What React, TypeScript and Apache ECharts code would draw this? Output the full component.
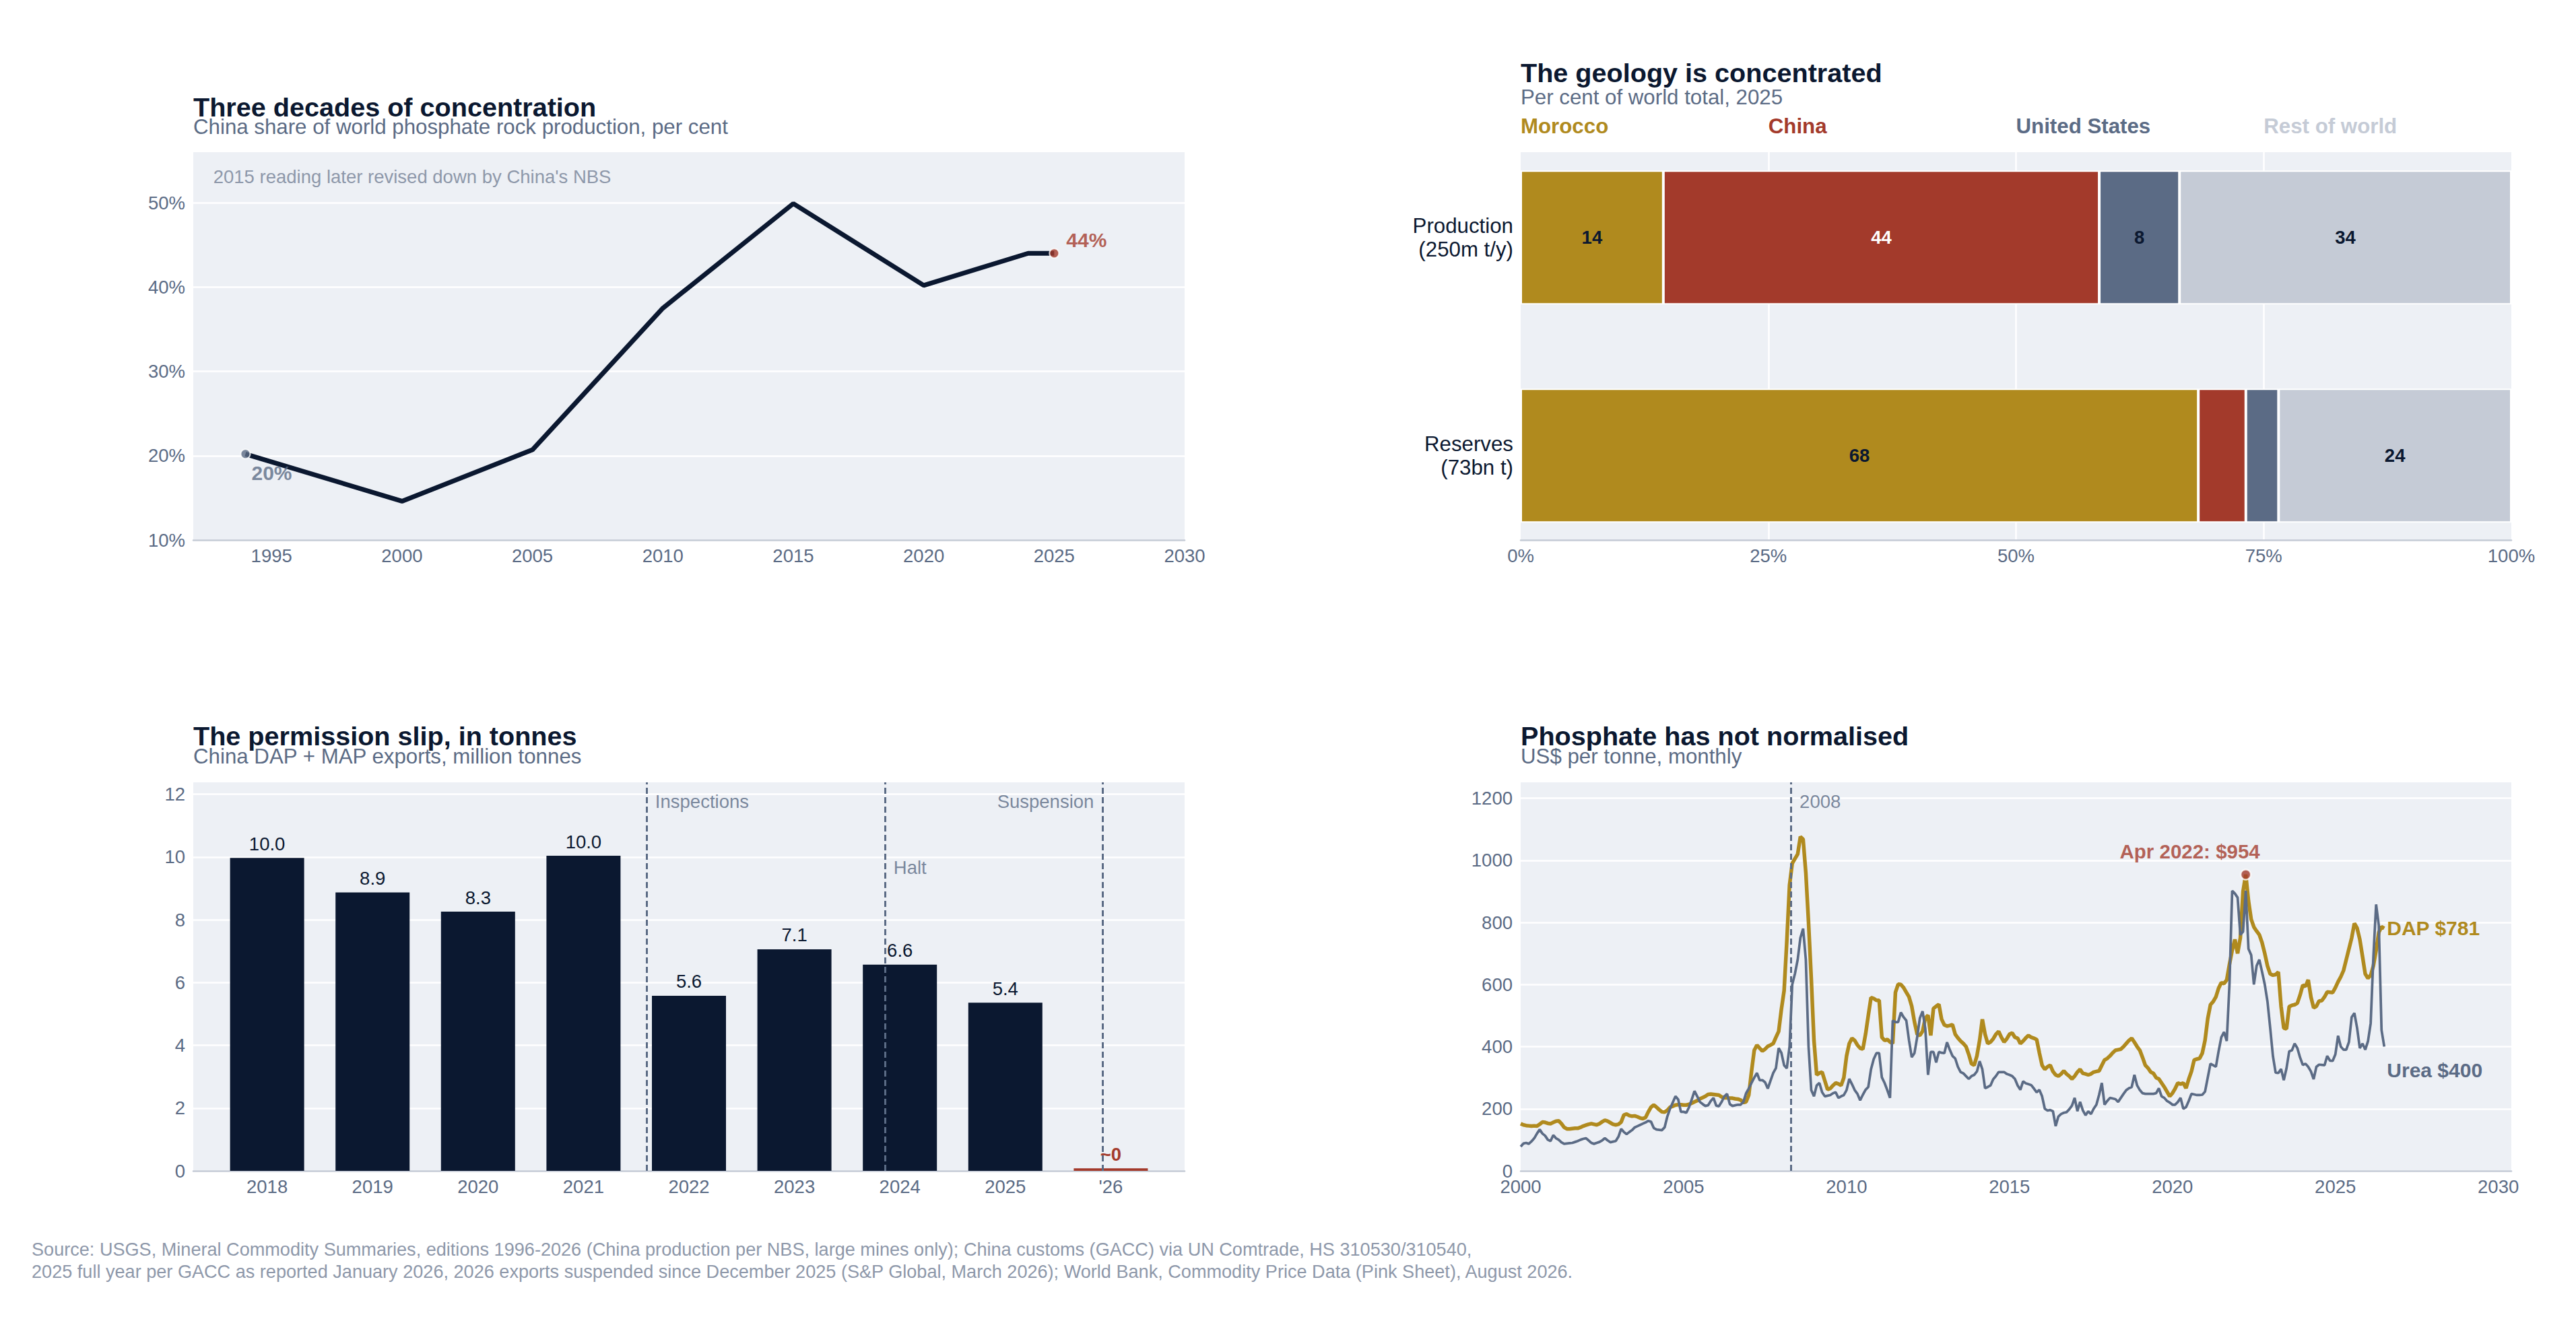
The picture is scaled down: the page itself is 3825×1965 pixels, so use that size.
import React, { useEffect, useRef } from "react";
import * as echarts from "echarts";

// ---------- data ----------
// Panel 1: China share of world phosphate rock production (%)
const shareYears = [1994, 2000, 2005, 2010, 2015, 2020, 2024, 2025];
const shareValues = [20.2, 14.6, 20.7, 37.5, 49.9, 40.2, 44.0, 44.0];
const shareNote = "2015 reading later revised down by China's NBS";

// Panel 2: geology shares (% of world total, 2025)
const geoRows = ["Reserves\n(73bn t)", "Production\n(250m t/y)"];
const geoGroups = ["Morocco", "China", "United States", "Rest of world"];
const geoReserves = [68.4, 4.8, 3.3, 23.5];
const geoProduction = [14.4, 44.0, 8.1, 33.5];
const geoTicks = [0, 25, 50, 75, 100];

// Panel 3: China DAP + MAP exports, million tonnes
const exportYears = [2018, 2019, 2020, 2021, 2022, 2023, 2024, 2025, 2026];
const exportTickLabels = ["2018", "2019", "2020", "2021", "2022", "2023", "2024", "2025", "'26"];
const exportValues = [9.97, 8.87, 8.26, 10.04, 5.58, 7.06, 6.57, 5.36, 0.08];
const eventNames = ["Inspections", "Halt", "Suspension"];
const eventDates = [2021.6, 2023.86, 2025.92];
const eventLabelLevels = [11.77, 9.67, 11.77];

// Panel 4: monthly prices, US$/t, from Jan 2000
const priceStartYear = 2000;
const dapMonthly = [
  152, 148, 146, 145, 144, 145, 144, 150, 157, 156, 153, 152,
  156, 160, 161, 152, 140, 135, 135, 136, 137, 137, 140, 144,
  147, 150, 152, 150, 148, 152, 158, 163, 160, 155, 150, 148,
  150, 157, 180, 183, 178, 176, 177, 174, 170, 168, 172, 190,
  205, 212, 205, 197, 190, 189, 195, 205, 208, 212, 213, 213,
  212, 212, 214, 218, 222, 226, 232, 236, 240, 246, 247, 246,
  245, 244, 238, 235, 235, 234, 234, 232, 231, 228, 220, 222,
  244, 320, 388, 405, 395, 386, 392, 401, 405, 410, 430, 449,
  520, 580, 740, 920, 990, 1005, 1020, 1076, 1068, 960, 800, 620,
  420, 309, 315, 318, 290, 262, 265, 275, 283, 280, 275, 300,
  370, 410, 427, 420, 405, 395, 392, 440, 500, 558, 555, 549,
  549, 430, 420, 423, 415, 410, 575, 601, 600, 590, 575, 560,
  530, 480, 440, 436, 450, 492, 501, 436, 523, 530, 536, 488,
  470, 466, 468, 471, 440, 428, 418, 410, 400, 375, 345, 340,
  370, 420, 488, 440, 410, 415, 425, 440, 449, 430, 415, 425,
  440, 444, 430, 427, 410, 418, 428, 436, 430, 427, 423, 380,
  340, 327, 335, 340, 320, 309, 305, 312, 322, 312, 305, 296,
  305, 318, 327, 314, 312, 309, 312, 318, 320, 322, 340, 357,
  362, 370, 380, 388, 390, 392, 400, 410, 420, 427, 414, 400,
  388, 365, 340, 331, 318, 314, 300, 296, 283, 270, 255, 240,
  250, 265, 283, 279, 283, 266, 295, 320, 357, 360, 362, 379,
  420, 490, 535, 545, 560, 588, 606, 603, 615, 665, 710, 745,
  700, 750, 900, 954, 870, 810, 785, 772, 760, 735, 700, 660,
  634, 630, 632, 640, 530, 460, 457, 529, 533, 535, 540, 566,
  598, 594, 615, 560, 525, 530, 547, 548, 560, 576, 575, 574,
  590, 609, 625, 645, 680, 715, 750, 797, 782, 745, 690, 634,
  620, 630, 660, 710, 768, 786, 781,
];
const ureaMonthly = [
  78, 88, 90, 87, 95, 105, 120, 133, 120, 113, 100, 96,
  115, 105, 100, 92, 87, 88, 89, 90, 93, 96, 100, 103,
  105, 98, 90, 87, 90, 93, 98, 105, 98, 92, 94, 96,
  110, 135, 125, 118, 125, 131, 140, 144, 148, 152, 156, 161,
  158, 138, 133, 132, 131, 140, 175, 200, 220, 240, 230, 190,
  190, 187, 205, 230, 257, 240, 222, 215, 209, 211, 225, 235,
  210, 208, 222, 240, 248, 215, 209, 211, 213, 213, 222, 250,
  265, 283, 300, 315, 292, 292, 285, 265, 290, 315, 331, 395,
  380, 340, 330, 400, 600, 635, 680, 750, 780, 680, 400, 260,
  240, 275, 283, 253, 240, 242, 244, 250, 253, 235, 240, 244,
  260, 296, 279, 260, 248, 227, 245, 261, 270, 327, 360, 379,
  379, 301, 283, 260, 235, 484, 479, 479, 510, 495, 484, 420,
  366, 379, 430, 492, 514, 458, 309, 383, 383, 349, 383, 380,
  379, 414, 390, 370, 362, 335, 318, 314, 305, 296, 305, 309,
  320, 353, 327, 266, 270, 275, 295, 305, 318, 318, 318, 312,
  309, 305, 296, 275, 261, 288, 282, 279, 276, 265, 253, 261,
  240, 200, 194, 196, 192, 144, 175, 183, 187, 189, 198, 210,
  235, 192, 222, 195, 179, 192, 183, 200, 213, 245, 283, 213,
  225, 235, 233, 231, 222, 235, 248, 260, 266, 270, 309, 275,
  260, 250, 248, 248, 248, 248, 250, 266, 240, 235, 225, 220,
  213, 213, 222, 235, 200, 205, 225, 248, 246, 244, 244, 245,
  255, 300, 345, 340, 335, 385, 430, 447, 418, 600, 902, 893,
  880, 760, 770, 902, 715, 695, 600, 660, 680, 641, 600, 545,
  460, 370, 316, 315, 328, 292, 330, 385, 388, 410, 395, 365,
  341, 345, 335, 320, 295, 335, 342, 341, 340, 370, 355, 354,
  375, 435, 400, 390, 390, 415, 495, 508, 460, 395, 410, 390,
  417, 475, 690, 858, 790, 453, 400,
];
const peakDate = 2022.25;
const peakValue = 954;
const peakText = "Apr 2022: $954";
const crisisDate = 2008.3;
const crisisLabelLevel = 1189;

const titles = [
  "Three decades of concentration",
  "The geology is concentrated",
  "The permission slip, in tonnes",
  "Phosphate has not normalised",
];
const subtitles = [
  "China share of world phosphate rock production, per cent",
  "Per cent of world total, 2025",
  "China DAP + MAP exports, million tonnes",
  "US$ per tonne, monthly",
];
const footerLines = [
  "Source: USGS, Mineral Commodity Summaries, editions 1996-2026 (China production per NBS, large mines only); China customs (GACC) via UN Comtrade, HS 310530/310540,",
  "2025 full year per GACC as reported January 2026, 2026 exports suspended since December 2025 (S&P Global, March 2026); World Bank, Commodity Price Data (Pink Sheet), August 2026.",
];

// ---------- style ----------
const W = 3825;
const H = 1965;
const FONT = '"Liberation Sans", Arial, Helvetica, sans-serif';
const NAVY = "#0b1830";
const RED = "#a33a2b";
const GOLD = "#b08a1e";
const SLATE = "#5b6b85";
const LIGHT = "#c5cbd6";
const BG = "#edf0f5";
const NOTE = "#8e98aa";
const geoColors = [GOLD, RED, SLATE, LIGHT];
const geoLabelColors = [NAVY, "#ffffff", NAVY, NAVY];

const L1 = 287;
const L2 = 2258;
const PW1 = 1472;
const PW2 = 1471;
const TOP1 = 226;
const PH1 = 576;
const TOP2 = 1162;
const PH2 = 577;

const TICK = 27.5;
const TITLE = 39.6;
const SUB = 31.25;

function txt(text: string, x: number, baseline: number, size: number, color: string, weight = "normal", align = "left") {
  return {
    type: "text",
    x,
    y: baseline - 0.3465 * size,
    silent: true,
    style: {
      text,
      fill: color,
      fontSize: size,
      fontWeight: weight,
      fontFamily: FONT,
      align,
      textAlign: align,
      verticalAlign: "middle",
      textVerticalAlign: "middle",
    },
  };
}

function range(a: number, b: number, step: number) {
  const out: number[] = [];
  for (let v = a; v <= b + 1e-9; v += step) out.push(v);
  return out;
}

const axisLineStyle = { show: true, lineStyle: { color: LIGHT, width: 2.5 } };
const gridLine = { show: true, lineStyle: { color: "#ffffff", width: 2.5 } };
const tickLabel = { color: SLATE, fontSize: TICK, fontFamily: FONT };
const dashStyle = { color: SLATE, width: 3, type: [9, 5] };

function buildOption(): any {
  const dapData = dapMonthly.map((v, i) => [priceStartYear + i / 12, v]);
  const ureaData = ureaMonthly.map((v, i) => [priceStartYear + i / 12, v]);
  const lastIdx = exportValues.length - 1;

  const graphics: any[] = [
    txt(titles[0], L1, 172.3, TITLE, NAVY, "bold"),
    txt(subtitles[0], L1, 199.3, SUB, SLATE),
    txt(shareNote, 316.7, 272.3, TICK, NOTE),
    txt(titles[1], L2, 121.7, TITLE, NAVY, "bold"),
    txt(subtitles[1], L2, 155.7, SUB, SLATE),
    txt(titles[2], L1, 1106.7, TITLE, NAVY, "bold"),
    txt(subtitles[2], L1, 1134, SUB, SLATE),
    txt(titles[3], L2, 1106.7, TITLE, NAVY, "bold"),
    txt(subtitles[3], L2, 1134, SUB, SLATE),
    txt(footerLines[0], 47, 1865, 27.1, NOTE),
    txt(footerLines[1], 47, 1898, 27.1, NOTE),
  ];
  geoGroups.forEach((g, i) => {
    graphics.push(txt(g, L2 + (PW2 * geoTicks[i]) / 100, 198.5, 31.25, geoColors[i], "bold"));
  });

  return {
    animation: false,
    backgroundColor: "#ffffff",
    textStyle: { fontFamily: FONT },
    grid: [
      { left: L1, top: TOP1, width: PW1, height: PH1, show: true, backgroundColor: BG, borderWidth: 0 },
      { left: L2, top: TOP1, width: PW2, height: PH1, show: true, backgroundColor: BG, borderWidth: 0 },
      { left: L2, top: 190.7, width: PW2, height: 648 },
      { left: L1, top: TOP2, width: PW1, height: PH2, show: true, backgroundColor: BG, borderWidth: 0 },
      { left: L2, top: TOP2, width: PW2, height: PH2, show: true, backgroundColor: BG, borderWidth: 0 },
    ],
    xAxis: [
      {
        gridIndex: 0, type: "value", min: 1992, max: 2030,
        axisLine: axisLineStyle, splitLine: { show: false },
        axisTick: { show: false, customValues: range(1995, 2030, 5) },
        axisLabel: { ...tickLabel, margin: 9, customValues: range(1995, 2030, 5), formatter: (v: number) => String(v) },
      },
      {
        gridIndex: 1, type: "value", min: 0, max: 100, interval: 25,
        axisLine: axisLineStyle, splitLine: gridLine,
        axisTick: { show: false, customValues: [25, 50, 75] },
        axisLabel: { ...tickLabel, margin: 9, customValues: geoTicks, formatter: (v: number) => v + "%" },
      },
      { gridIndex: 2, type: "value", min: 0, max: 100, show: false },
      {
        gridIndex: 3, type: "value", min: 2017.3, max: 2026.7,
        axisLine: axisLineStyle, splitLine: { show: false },
        axisTick: { show: false, customValues: exportYears },
        axisLabel: {
          ...tickLabel, margin: 9, customValues: exportYears,
          formatter: (v: number) => exportTickLabels[exportYears.indexOf(Math.round(v))] ?? "",
        },
      },
      {
        gridIndex: 4, type: "value", min: 2000, max: 2030.4,
        axisLine: axisLineStyle, splitLine: { show: false },
        axisTick: { show: false, customValues: range(2000, 2030, 5) },
        axisLabel: { ...tickLabel, margin: 9, customValues: range(2000, 2030, 5), formatter: (v: number) => String(v) },
      },
    ],
    yAxis: [
      {
        gridIndex: 0, type: "value", min: 10, max: 56, interval: 10,
        axisLine: { show: false }, splitLine: gridLine,
        axisTick: { show: false, customValues: range(10, 50, 10) },
        axisLabel: { ...tickLabel, margin: 12, customValues: range(10, 50, 10), formatter: (v: number) => v + "%" },
      },
      { gridIndex: 1, type: "value", min: 0, max: 1, show: false },
      {
        gridIndex: 2, type: "category", data: geoRows,
        axisLine: { show: false }, axisTick: { show: false }, splitLine: { show: false },
        axisLabel: { color: NAVY, fontSize: 31.25, lineHeight: 35, margin: 11, fontFamily: FONT, align: "right" },
      },
      {
        gridIndex: 3, type: "value", min: 0, max: 12.38, interval: 2,
        axisLine: { show: false }, splitLine: gridLine,
        axisTick: { show: false, customValues: range(0, 12, 2) },
        axisLabel: { ...tickLabel, margin: 12, customValues: range(0, 12, 2), formatter: (v: number) => String(v) },
      },
      {
        gridIndex: 4, type: "value", min: 0, max: 1251, interval: 200,
        axisLine: { show: false }, splitLine: gridLine,
        axisTick: { show: false, customValues: range(0, 1200, 200) },
        axisLabel: { ...tickLabel, margin: 12, customValues: range(0, 1200, 200), formatter: (v: number) => String(v) },
      },
    ],
    series: [
      // Panel 1
      {
        type: "line", xAxisIndex: 0, yAxisIndex: 0, z: 3,
        data: shareYears.map((y, i) => [y, shareValues[i]]),
        symbol: "none", lineStyle: { color: NAVY, width: 7 },
      },
      {
        type: "scatter", xAxisIndex: 0, yAxisIndex: 0, z: 4, silent: true,
        data: [[shareYears[0], shareValues[0]]], symbolSize: 14,
        itemStyle: { color: SLATE, borderColor: "#ffffff", borderWidth: 2 },
        label: {
          show: true, position: "right", distance: 1, offset: [0, 28],
          color: SLATE, fontSize: 30, fontWeight: "bold", fontFamily: FONT,
          formatter: (p: any) => Math.round(p.value[1]) + "%",
        },
      },
      {
        type: "scatter", xAxisIndex: 0, yAxisIndex: 0, z: 4, silent: true,
        data: [[shareYears[shareYears.length - 1], shareValues[shareValues.length - 1]]], symbolSize: 14,
        itemStyle: { color: RED, borderColor: "#ffffff", borderWidth: 2 },
        label: {
          show: true, position: "right", distance: 10, offset: [0, -20],
          color: RED, fontSize: 30, fontWeight: "bold", fontFamily: FONT,
          formatter: (p: any) => Math.round(p.value[1]) + "%",
        },
      },
      // Panel 2
      ...geoGroups.map((g, gi) => ({
        type: "bar", name: g, xAxisIndex: 2, yAxisIndex: 2, stack: "geo", barWidth: 199,
        data: [geoReserves[gi], geoProduction[gi]],
        itemStyle: { color: geoColors[gi], borderColor: "#ffffff", borderWidth: 2 },
        label: {
          show: true, position: "inside", color: geoLabelColors[gi],
          fontSize: TICK, fontWeight: "bold", fontFamily: FONT,
          formatter: (p: any) => (p.value >= 5 ? String(Math.round(p.value)) : ""),
        },
      })),
      // Panel 3
      {
        type: "bar", xAxisIndex: 3, yAxisIndex: 3, barWidth: 110,
        data: exportYears.map((y, i) => ({
          value: [y, exportValues[i]],
          itemStyle: { color: i === lastIdx ? RED : NAVY },
          label: i === lastIdx ? { color: RED, fontWeight: "bold" } : {},
        })),
        label: {
          show: true, position: "top", distance: 7, color: NAVY, fontSize: TICK, fontFamily: FONT,
          formatter: (p: any) => (p.dataIndex === lastIdx ? "~0" : p.value[1].toFixed(1)),
        },
        markLine: {
          silent: true, symbol: ["none", "none"], label: { show: false },
          lineStyle: dashStyle,
          data: eventDates.map((d) => ({ xAxis: d })),
        },
      },
      {
        type: "scatter", xAxisIndex: 3, yAxisIndex: 3, silent: true, symbolSize: 1,
        itemStyle: { color: "rgba(0,0,0,0)" },
        data: eventDates.map((d, i) => ({
          value: [d, eventLabelLevels[i]],
          label: { position: i === 2 ? "left" : "right" },
        })),
        label: {
          show: true, distance: 12, color: SLATE, fontSize: TICK, fontFamily: FONT,
          formatter: (p: any) => eventNames[p.dataIndex],
        },
      },
      // Panel 4
      {
        type: "line", xAxisIndex: 4, yAxisIndex: 4, z: 3, data: dapData,
        symbol: "none", showSymbol: false, lineStyle: { color: GOLD, width: 5.5 },
        endLabel: {
          show: true, distance: 4, color: GOLD, fontSize: 30, fontWeight: "bold", fontFamily: FONT,
          formatter: () => "DAP $" + dapMonthly[dapMonthly.length - 1],
        },
        markLine: {
          silent: true, symbol: ["none", "none"], label: { show: false },
          lineStyle: dashStyle,
          data: [{ xAxis: crisisDate }],
        },
      },
      {
        type: "line", xAxisIndex: 4, yAxisIndex: 4, z: 4, data: ureaData,
        symbol: "none", showSymbol: false, lineStyle: { color: SLATE, width: 3.75 },
        endLabel: {
          show: true, distance: 4, offset: [0, 35], color: SLATE, fontSize: 30, fontWeight: "bold", fontFamily: FONT,
          formatter: () => "Urea $" + ureaMonthly[ureaMonthly.length - 1],
        },
      },
      {
        type: "scatter", xAxisIndex: 4, yAxisIndex: 4, z: 6, silent: true,
        data: [[peakDate, peakValue]], symbolSize: 15,
        itemStyle: { color: RED, borderColor: "#ffffff", borderWidth: 2.5 },
        label: {
          show: true, position: "inside", offset: [-83, -34], color: RED,
          fontSize: 29.5, fontWeight: "bold", fontFamily: FONT, formatter: () => peakText,
        },
      },
      {
        type: "scatter", xAxisIndex: 4, yAxisIndex: 4, silent: true, symbolSize: 1,
        itemStyle: { color: "rgba(0,0,0,0)" },
        data: [[crisisDate, crisisLabelLevel]],
        label: {
          show: true, position: "right", distance: 12, color: SLATE, fontSize: TICK, fontFamily: FONT,
          formatter: () => String(Math.floor(crisisDate)),
        },
      },
    ],
    graphic: graphics,
  };
}

export default function App() {
  const ref = useRef<HTMLDivElement>(null);
  useEffect(() => {
    if (!ref.current) return;
    const chart = echarts.init(ref.current, null, { renderer: "svg" });
    chart.setOption(buildOption());
    return () => chart.dispose();
  }, []);
  return (
    <div
      ref={ref}
      style={{ position: "fixed", left: 0, top: 0, width: W + "px", height: H + "px", background: "#ffffff" }}
    />
  );
}
